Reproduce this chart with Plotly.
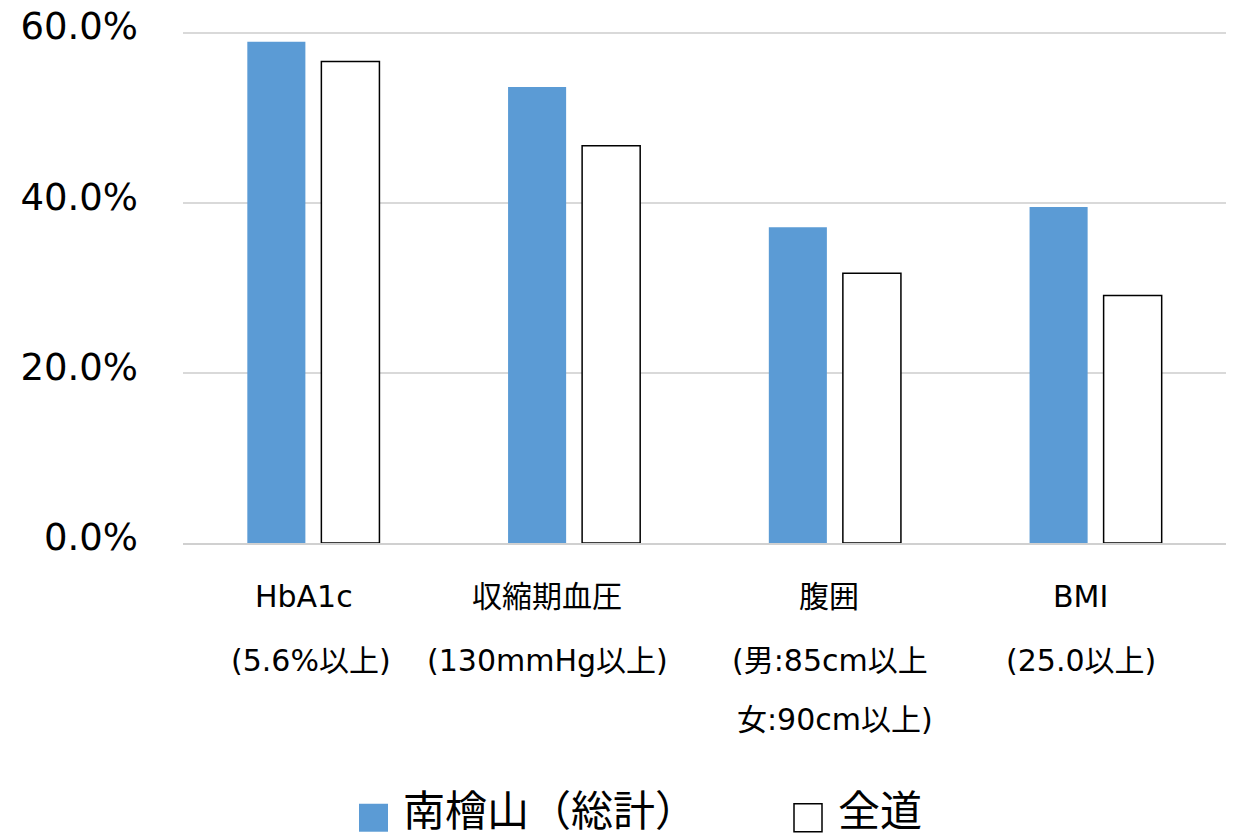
import plotly.graph_objects as go

categories = ["HbA1c", "収縮期血圧", "腹囲", "BMI"]
label_lines = [
    ["HbA1c", "(5.6%以上)"],
    ["収縮期血圧", "(130mmHg以上)"],
    ["腹囲", "(男:85cm以上", "女:90cm以上)"],
    ["BMI", "(25.0以上)"],
]
minamihiyama = [58.9, 53.6, 37.1, 39.5]
zendo = [56.6, 46.7, 31.7, 29.1]
series_names = ["南檜山（総計）", "全道"]
y_ticks = [0, 20, 40, 60]

# layout helpers (pixel placement of label text, not data)
label_xshift = [[-9, -2.5], [-27, -26.5], [-5.5, -5, 0], [-15.5, -15]]
label_py = [597, 661, 720]

FONT = "DejaVu Sans, Noto Sans CJK JP, sans-serif"
BLUE = "#5B9BD5"
T, B, L, R = 23.5, 292, 183, 17
PH = 835 - T - B
PW = 1243 - L - R


def py(p):
    return (835 - B - p) / PH


def px(p):
    return (p - L) / PW


fig = go.Figure()
fig.add_trace(go.Bar(x=categories, y=minamihiyama, name=series_names[0],
                     marker=dict(color=BLUE, line=dict(width=0))))
fig.add_trace(go.Bar(x=categories, y=zendo, name=series_names[1],
                     marker=dict(color="white", line=dict(color="black", width=1.5))))

annotations = []
for cat, lines, shifts in zip(categories, label_lines, label_xshift):
    for i, t in enumerate(lines):
        annotations.append(dict(x=cat, xref="x", y=py(label_py[i]), yref="paper",
                                xshift=shifts[i],
                                text=t, showarrow=False, xanchor="center", yanchor="middle",
                                font=dict(family=FONT, size=30, color="black")))

annotations += [
    dict(x=px(401), xref="paper", y=py(812), yref="paper", text=series_names[0], showarrow=False,
         xanchor="left", yanchor="middle", font=dict(family=FONT, size=42, color="black")),
    dict(x=px(836), xref="paper", y=py(812), yref="paper", text=series_names[1], showarrow=False,
         xanchor="left", yanchor="middle", font=dict(family=FONT, size=42, color="black")),
]

shapes = [
    dict(type="rect", xref="paper", yref="paper", x0=px(359), x1=px(388), y0=py(804), y1=py(832),
         fillcolor=BLUE, line=dict(width=0)),
    dict(type="rect", xref="paper", yref="paper", x0=px(794), x1=px(822), y0=py(804), y1=py(832),
         fillcolor="white", line=dict(color="black", width=1.5)),
]

fig.update_layout(
    width=1243, height=835,
    margin=dict(l=L, r=R, t=T, b=B, autoexpand=False),
    paper_bgcolor="white", plot_bgcolor="white",
    barmode="group", bargap=0.432, bargroupgap=0.216,
    showlegend=False,
    annotations=annotations,
    shapes=shapes,
    font=dict(family=FONT, color="black"),
)
fig.update_xaxes(showticklabels=False, showgrid=False, showline=True, automargin=False,
                 linecolor="#d0d0d0", linewidth=1.5, ticks="")
fig.update_yaxes(range=[0, 61], tickvals=y_ticks, ticktext=[f"{v:.1f}%" for v in y_ticks],
                 showgrid=True, gridcolor="#d9d9d9", gridwidth=1.5, zeroline=False, automargin=False,
                 showline=False, ticks="", ticklabelstandoff=44, ticklabelshift=-6,
                 tickfont=dict(family=FONT, size=37, color="black"))

fig.write_html("out.html", config={"displayModeBar": False},
               post_script="document.body.style.margin='0';")
